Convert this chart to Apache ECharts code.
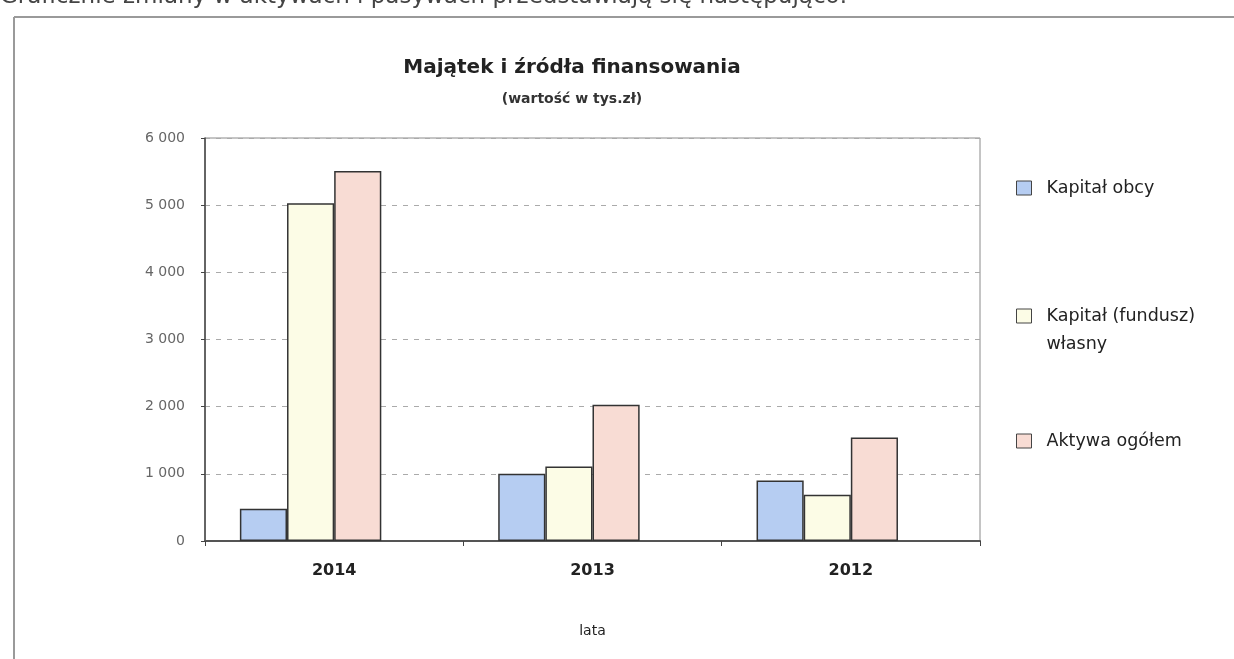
<!DOCTYPE html>
<html>
<head>
<meta charset="utf-8">
<script src="https://cdn.jsdelivr.net/npm/echarts@6/dist/echarts.min.js"></script>
<style>
  html, body { margin: 0; padding: 0; background: #ffffff; }
  #chart { width: 1234px; height: 659px; }
</style>
</head>
<body>
<div id="chart"></div>
<script>
// Years shown on the category axis
const years = ['2014', '2013', '2012'];
// Values in thousands of zloty
const kapitalObcy = [480, 1000, 900];
const kapitalWlasny = [5030, 1110, 690];
const aktywaOgolem = [5510, 2030, 1540];
// Value axis range and step
const yMin = 0;
const yMax = 6000;
const yStep = 1000;

const seriesNames = ['Kapitał obcy', 'Kapitał (fundusz) własny', 'Aktywa ogółem'];
const seriesColors = ['#b6cdf2', '#fcfce6', '#f8dcd4'];
const seriesData = [kapitalObcy, kapitalWlasny, aktywaOgolem];

const FONT = '"DejaVu Sans", "Liberation Sans", Arial, sans-serif';

const chart = echarts.init(document.getElementById('chart'), null, { renderer: 'canvas' });

function fmtThousands(v) {
  return String(v).replace(/\B(?=(\d{3})+(?!\d))/g, ' ');
}

// One legend block per series so each entry can sit at its own height
const legendTops = [179, 274, 432];

const barSeries = seriesNames.map((n, i) => ({
  name: n,
  type: 'bar',
  data: seriesData[i],
  barGap: '0%',
  barCategoryGap: '27%',
  itemStyle: { color: seriesColors[i], borderColor: '#333', borderWidth: 1.5 }
}));
// Empty trailing slot: the group keeps room for a fourth bar, so the three bars sit left of the tick label
barSeries.push({
  name: 'spacer',
  type: 'bar',
  data: [],
  barGap: '0%',
  barCategoryGap: '27%',
  silent: true
});

// Two-line entry: a blank first line keeps the first text line level with the swatch
function legendLabel(name) {
  return name === 'Kapitał (fundusz) własny' ? '\nKapitał (fundusz)\nwłasny' : name;
}

const option = {
  backgroundColor: '#ffffff',
  animation: false,
  title: [
    {
      text: 'Majątek i źródła finansowania',
      left: 567, top: 53, textAlign: 'center',
      textStyle: { fontFamily: FONT, fontSize: 20, fontWeight: 'bold', color: '#222' }
    },
    {
      text: '(wartość w tys.zł)',
      left: 567, top: 87, textAlign: 'center',
      textStyle: { fontFamily: FONT, fontSize: 14, fontWeight: 'bold', color: '#333' }
    }
  ],
  legend: seriesNames.map((n, i) => ({
    data: [n],
    orient: 'vertical',
    left: 1016,
    top: legendTops[i],
    padding: 0,
    itemWidth: 15,
    itemHeight: 14,
    icon: 'rect',
    selectedMode: false,
    formatter: legendLabel,
    textStyle: i === 1
      ? { fontFamily: FONT, fontSize: 17.5, color: '#222', lineHeight: 28, padding: [0, 0, 0, 10] }
      : { fontFamily: FONT, fontSize: 17.5, color: '#222', padding: [0, 0, 0, 10] },
    itemStyle: { borderColor: '#444', borderWidth: 1 }
  })),
  grid: {
    left: 205, right: 254, top: 138, bottom: 118,
    show: true, borderColor: '#8a8a8a', borderWidth: 1, backgroundColor: 'transparent'
  },
  xAxis: {
    type: 'category',
    data: years,
    name: 'lata',
    nameLocation: 'middle',
    nameGap: 83,
    nameTextStyle: { fontFamily: FONT, fontSize: 14, color: '#222' },
    axisLine: { show: true, lineStyle: { color: '#555', width: 2 } },
    axisTick: { show: true, alignWithLabel: false, length: 5, lineStyle: { color: '#444' } },
    axisLabel: { margin: 22, fontFamily: FONT, fontSize: 16, fontWeight: 'bold', color: '#222' }
  },
  yAxis: {
    type: 'value',
    min: yMin, max: yMax, interval: yStep,
    axisLine: { show: true, lineStyle: { color: '#444', width: 1.5 } },
    axisTick: { show: true, length: 4, lineStyle: { color: '#444' } },
    axisLabel: { margin: 20, fontFamily: FONT, fontSize: 14, color: '#666', formatter: v => fmtThousands(v) },
    splitLine: { show: true, lineStyle: { color: '#aaaaaa', type: [5, 6], width: 1 } }
  },
  series: barSeries,
  graphic: [
    {
      type: 'text', left: 0, top: -14,
      style: {
        text: 'Graficznie zmiany w aktywach i pasywach przedstawiają się następująco:',
        font: '23px ' + FONT, fill: '#444'
      }
    },
    { type: 'line', shape: { x1: 14, y1: 17, x2: 1234, y2: 17 }, style: { stroke: '#9a9a9a', lineWidth: 2 } },
    { type: 'line', shape: { x1: 14, y1: 17, x2: 14, y2: 659 }, style: { stroke: '#9a9a9a', lineWidth: 2 } }
  ]
};

chart.setOption(option);
</script>
</body>
</html>
